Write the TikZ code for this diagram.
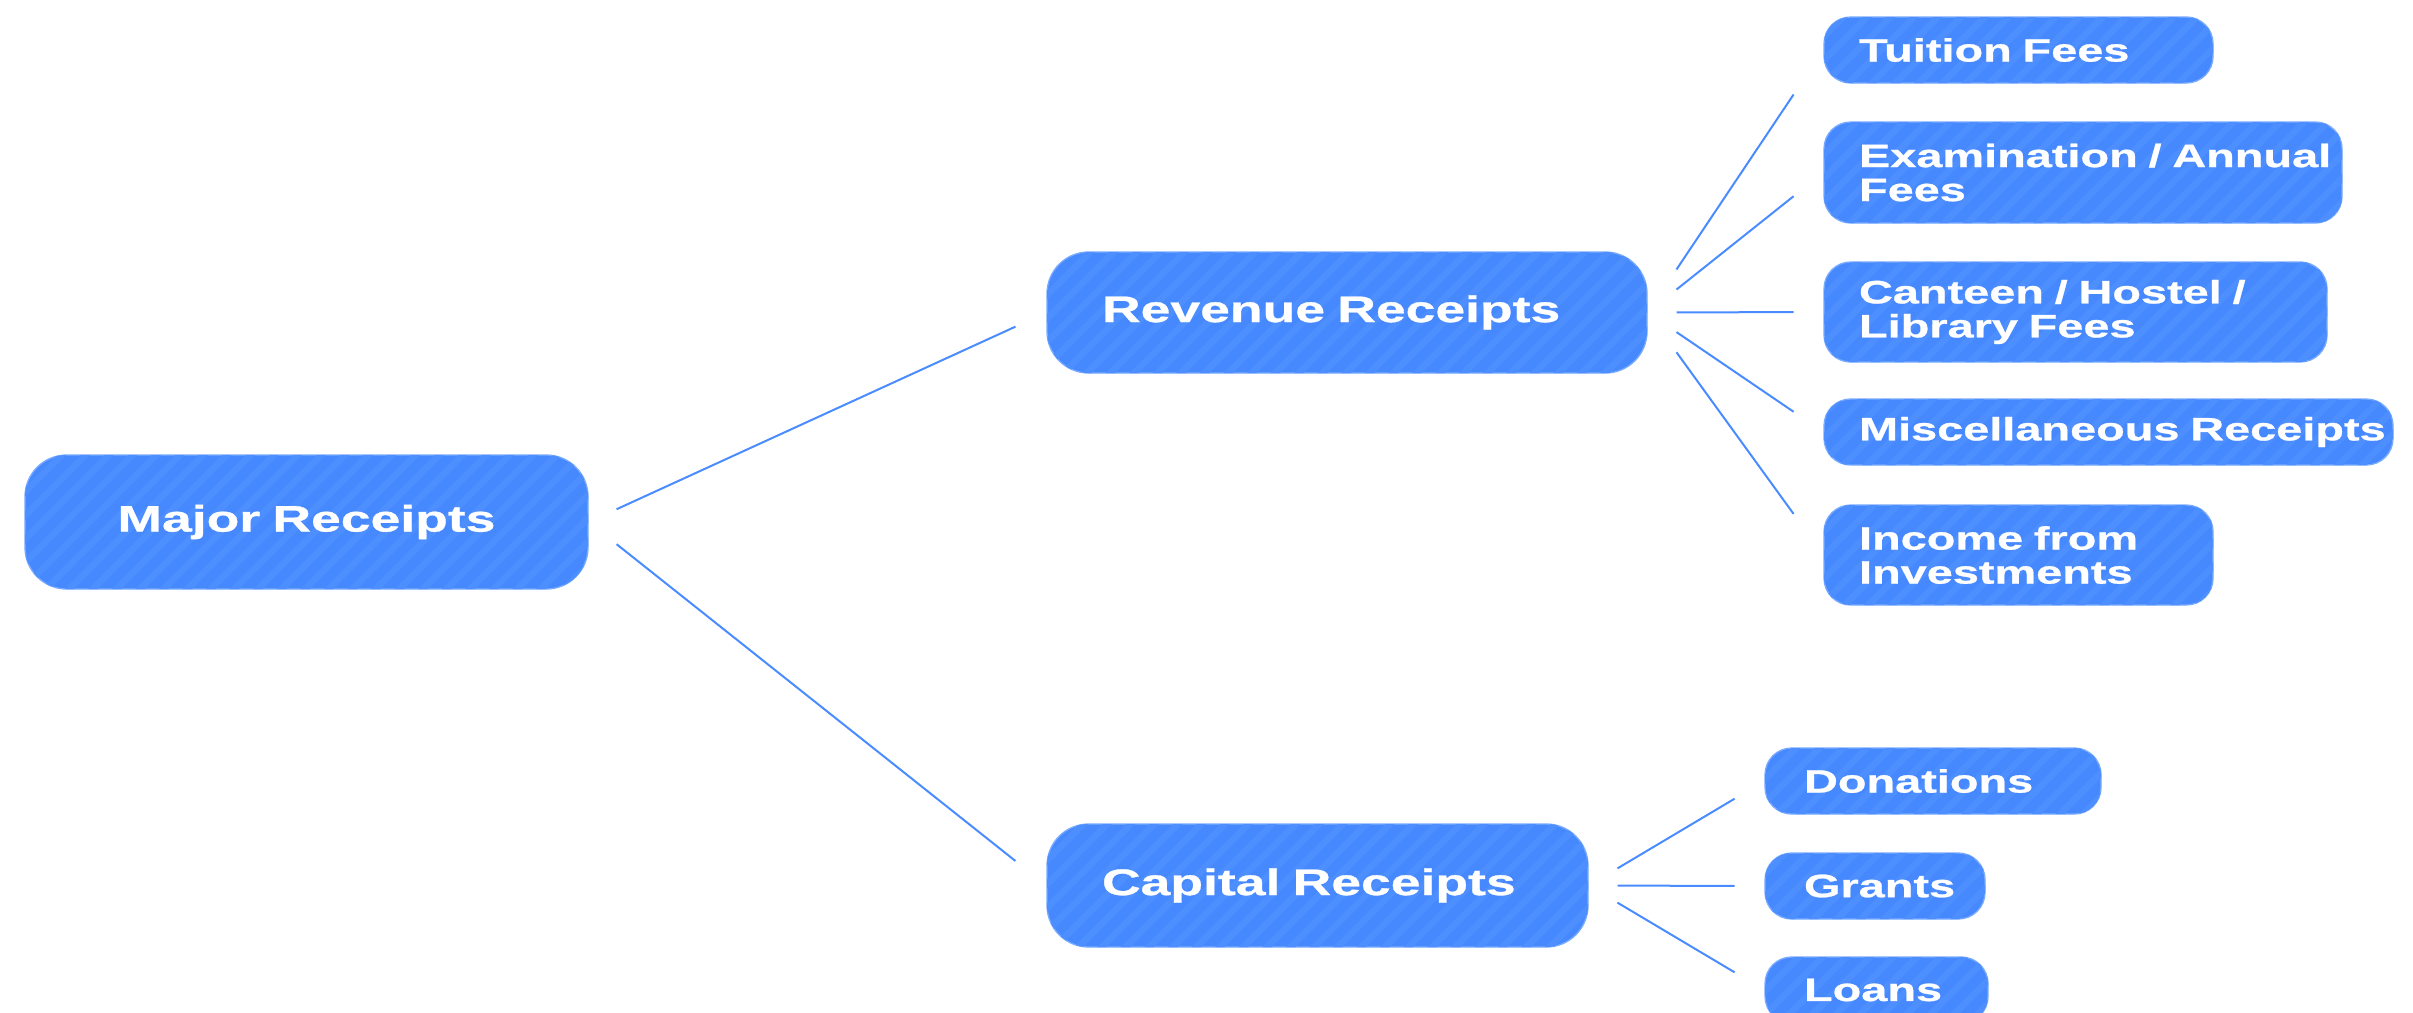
\documentclass[tikz,border=0pt]{standalone}
\usepackage{fontspec}
\usetikzlibrary{calc,patterns.meta}
\newfontfamily\boxfont{Liberation Sans Bold}[FakeStretch=1.45,FakeBold=0.8]
\newcommand\pxu{0.3pt}
\definecolor{boxblue}{HTML}{4689FF}
\definecolor{stripeblue}{HTML}{4E8FFF}
\definecolor{edgeblue}{HTML}{78ABFF}
\definecolor{linkblue}{HTML}{4A8CFF}
\tikzset{
  rbox/.style={rectangle, fill=boxblue, draw=edgeblue, line width=0.4pt,
    text=white, inner xsep=0.9pt, inner ysep=0pt, align=left,
    postaction={pattern={Lines[angle=45,distance=5pt,line width=2pt]}, pattern color=stripeblue}},
  parentbox/.style={rbox, rounded corners=12.5pt, font=\boxfont\fontsize{11.07}{12}\selectfont},
  childbox/.style={rbox, rounded corners=8pt, font=\boxfont\fontsize{9.7}{10.2}\selectfont},
  lp/.style={execute at begin node={\pgfmathsetlength\leftskip{#1}}},
  link/.style={draw=linkblue, line width=0.6pt},
}
\begin{document}
\begin{tikzpicture}[x=0.3pt,y=-0.3pt]
\useasboundingbox (0,0) rectangle (2413,1012);
\clip (0,0) rectangle (2413,1012);

% root
\node[parentbox, align=center, minimum height={134*\pxu}, text width={(563-6)*\pxu}] (major) at (306.5,522) {Major Receipts};

% second level
\node[parentbox, minimum height={121*\pxu}, text width={(600-6)*\pxu}, lp={52*\pxu}] (rev) at (1347,312.5) {Revenue Receipts};
\node[parentbox, minimum height={123*\pxu}, text width={(541-6)*\pxu}, lp={52*\pxu}] (cap) at (1317.5,885.5) {Capital Receipts};

% revenue children
\node[childbox, minimum height={66*\pxu}, text width={(389-6)*\pxu}, lp={32*\pxu}] (tui) at (2018.5,50) {Tuition Fees};
\node[childbox, minimum height={101*\pxu}, text width={(518-6)*\pxu}, lp={32*\pxu}] (exa) at (2083,172.5) {\mbox{Examination / Annual}\\Fees};
\node[childbox, minimum height={100*\pxu}, text width={(503-6)*\pxu}, lp={32*\pxu}] (can) at (2075.5,312) {\mbox{Canteen / Hostel /}\\Library Fees};
\node[childbox, minimum height={66*\pxu}, text width={(569-6)*\pxu}, lp={32*\pxu}] (mis) at (2108.5,432) {\mbox{Miscellaneous Receipts}};
\node[childbox, minimum height={100*\pxu}, text width={(389-6)*\pxu}, lp={32*\pxu}] (inc) at (2018.5,555) {\mbox{Income from}\\Investments};

% capital children
\node[childbox, minimum height={66*\pxu}, text width={(336-6)*\pxu}, lp={36*\pxu}] (don) at (1933,781) {Donations};
\node[childbox, minimum height={66*\pxu}, text width={(220-6)*\pxu}, lp={36*\pxu}] (gra) at (1875,886) {Grants};
\node[childbox, minimum height={66*\pxu}, text width={(223-6)*\pxu}, lp={36*\pxu}] (loa) at (1876.5,990) {Loans};

% connectors
\draw[link] ($(major.east)!0.061!(rev.west)$) -- ($(major.east)!0.9325!(rev.west)$);
\draw[link] ($(major.east)!0.061!(cap.west)$) -- ($(major.east)!0.9325!(cap.west)$);
\foreach \t in {tui,exa,can,mis,inc}{
  \draw[link] ($(rev.east)!0.164!(\t.west)$) -- ($(rev.east)!0.8305!(\t.west)$);
}
\foreach \t in {don,gra,loa}{
  \draw[link] ($(cap.east)!0.164!(\t.west)$) -- ($(cap.east)!0.8305!(\t.west)$);
}
\end{tikzpicture}
\end{document}
